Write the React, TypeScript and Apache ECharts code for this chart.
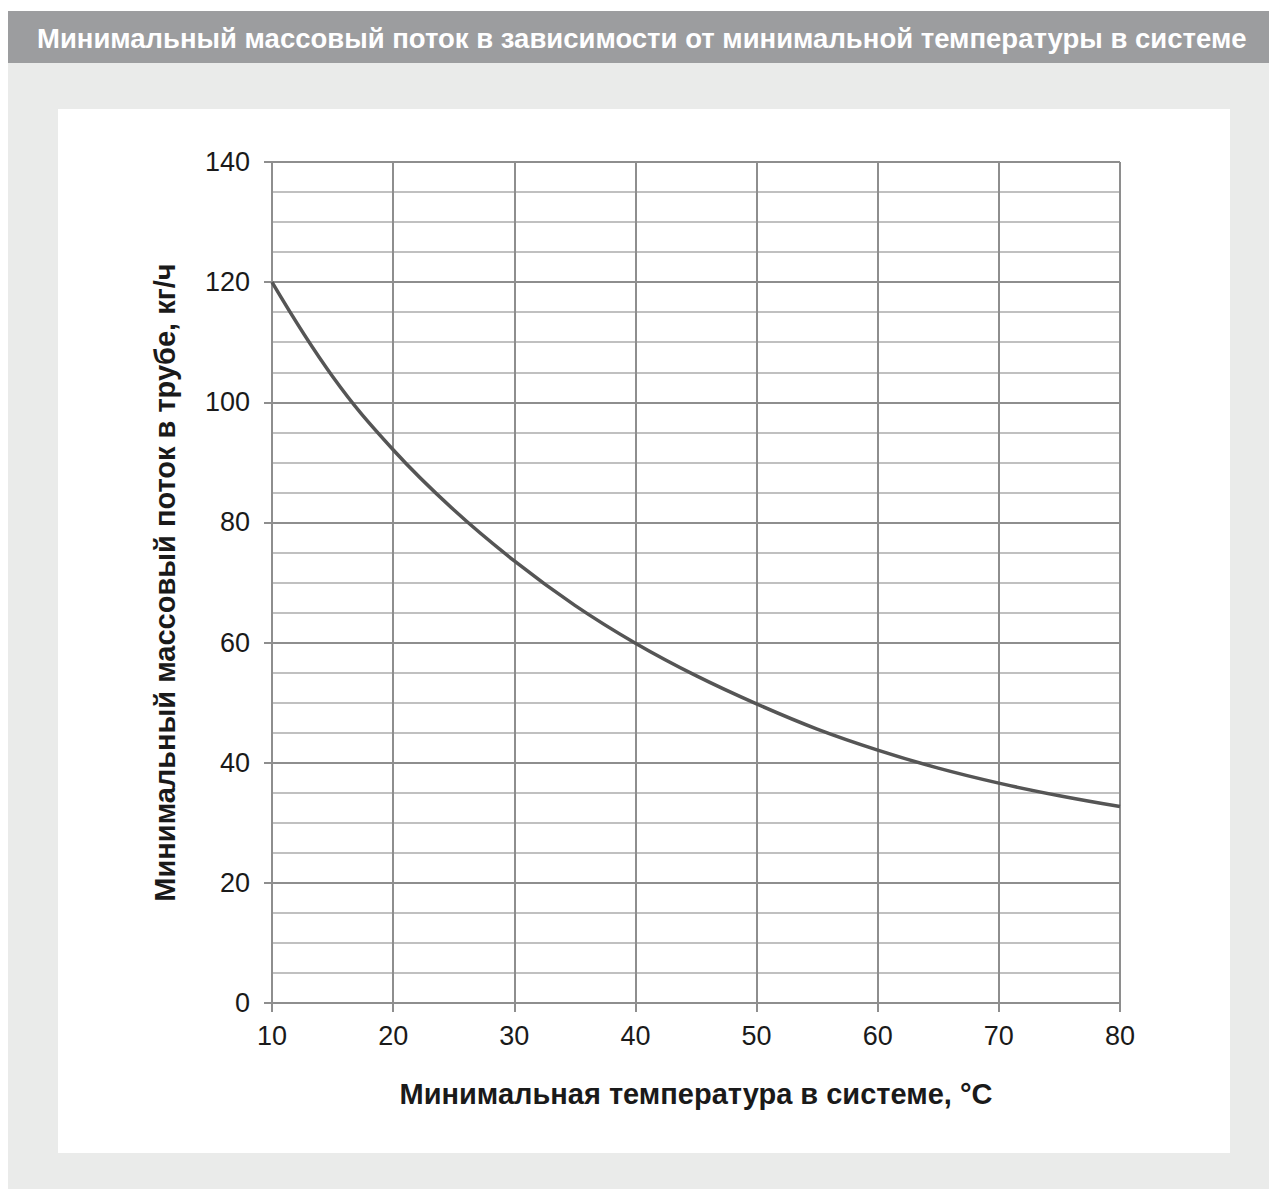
import React, { useEffect, useRef } from "react";
import * as echarts from "echarts";

const titleText = "Минимальный массовый поток в зависимости от минимальной температуры в системе";
const xAxisName = "Минимальная температура в системе, °C";
const yAxisName = "Минимальный массовый поток в трубе, кг/ч";

const temperatures = [10, 15, 20, 25, 30, 35, 40, 45, 50, 55, 60, 65, 70, 75, 80];
const massFlow = [120, 104.3, 92.1, 82.1, 73.6, 66.2, 59.9, 54.5, 49.8, 45.6, 42.1, 39.1, 36.6, 34.5, 32.7];

const FONT = "'Liberation Sans', Arial, Helvetica, sans-serif";
const GRID_MAJOR = "#8e8e8e";
const GRID_MINOR = "#ababab";

export default function App() {
  const ref = useRef<HTMLDivElement>(null);

  useEffect(() => {
    if (!ref.current) return;
    const chart = echarts.init(ref.current, null, { renderer: "svg" });
    const data = temperatures.map((t, i) => [t, massFlow[i]]);
    chart.setOption({
      animation: false,
      backgroundColor: "transparent",
      textStyle: { fontFamily: FONT },
      graphic: [
        {
          type: "text",
          x: 37,
          y: 38,
          style: {
            text: titleText,
            fill: "#ffffff",
            font: `bold 27.5px ${FONT}`,
            verticalAlign: "middle",
          },
        },
      ],
      grid: { left: 272, right: 149, top: 162, bottom: 186 },
      xAxis: {
        type: "value",
        min: 10,
        max: 80,
        interval: 10,
        name: xAxisName,
        nameLocation: "middle",
        nameGap: 76,
        nameTextStyle: { fontFamily: FONT, fontSize: 29, fontWeight: "bold", color: "#1a1a1a" },
        axisLine: { show: true, lineStyle: { color: GRID_MAJOR, width: 2 } },
        axisTick: { show: true, length: 9, lineStyle: { color: GRID_MAJOR, width: 2 } },
        axisLabel: { margin: 19, fontSize: 27, color: "#1a1a1a", fontFamily: FONT },
        splitLine: { show: true, lineStyle: { color: GRID_MAJOR, width: 2 } },
      },
      yAxis: {
        type: "value",
        min: 0,
        max: 140,
        interval: 20,
        name: yAxisName,
        nameLocation: "middle",
        nameGap: 93,
        nameTextStyle: { fontFamily: FONT, fontSize: 29, fontWeight: "bold", color: "#1a1a1a" },
        axisLine: { show: true, lineStyle: { color: GRID_MAJOR, width: 2 } },
        axisTick: { show: true, length: 8, lineStyle: { color: GRID_MAJOR, width: 2 } },
        minorTick: { show: false, splitNumber: 4 },
        axisLabel: { margin: 22, fontSize: 27, color: "#1a1a1a", fontFamily: FONT },
        splitLine: { show: true, lineStyle: { color: GRID_MAJOR, width: 2 } },
        minorSplitLine: { show: true, lineStyle: { color: GRID_MINOR, width: 1.6 } },
      },
      series: [
        {
          type: "line",
          data,
          smooth: 0.4,
          showSymbol: false,
          symbol: "none",
          lineStyle: { color: "#555555", width: 3.5 },
          z: 5,
        },
      ],
    });
    return () => chart.dispose();
  }, []);

  return (
    <div style={{ position: "fixed", left: 0, top: 0, width: 1269, height: 1189, background: "#ffffff", overflow: "hidden" }}>
      <div style={{ position: "absolute", left: 8, top: 11, width: 1261, height: 52, background: "#9c9d9f" }} />
      <div style={{ position: "absolute", left: 8, top: 63, width: 1261, height: 1126, background: "#eaebea" }} />
      <div style={{ position: "absolute", left: 58, top: 109, width: 1172, height: 1044, background: "#ffffff" }} />
      <div ref={ref} style={{ position: "absolute", left: 0, top: 0, width: 1269, height: 1189 }} />
    </div>
  );
}
